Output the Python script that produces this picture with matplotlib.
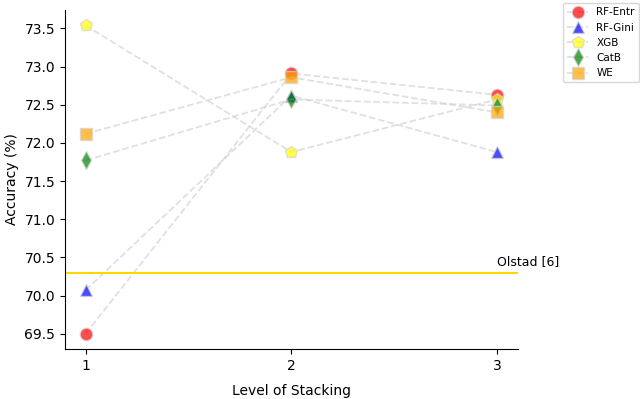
import matplotlib
matplotlib.use("Agg")
import matplotlib.pyplot as plt

# Accuracy per level of stacking
levels = [1, 2, 3]
rf_entr = [69.50, 72.91, 72.63]
rf_gini = [70.07, 72.62, 71.88]
xgb = [73.54, 71.88, 72.57]
catb = [71.77, 72.57, 72.49]
we = [72.12, 72.86, 72.40]
olstad = 70.30

series = [
    ("RF-Entr", rf_entr, "o", "red"),
    ("RF-Gini", rf_gini, "^", "blue"),
    ("XGB", xgb, "p", "yellow"),
    ("CatB", catb, "d", "green"),
    ("WE", we, "s", "orange"),
]

fig = plt.figure(figsize=(6.4, 3.99), dpi=100)
ax = fig.add_axes([0.1016, 0.125, 0.707, 0.85])

for label, vals, mk, col in series:
    ax.plot(levels, vals, linestyle="--", color="lightgrey", linewidth=1.3,
            marker=mk, markersize=9, markerfacecolor=col,
            markeredgecolor="lightgrey", alpha=0.7, label=label)

ax.axhline(olstad, color="gold", linewidth=1.5)
ax.text(3.0, olstad + 0.1, "Olstad [6]", fontsize=9)

ax.set_xticks(levels)
ax.set_xlim(0.9, 3.1)
ax.set_xlabel("Level of Stacking", labelpad=8)
ax.set_ylabel("Accuracy (%)")
ax.spines["top"].set_visible(False)
ax.spines["right"].set_visible(False)

ax.legend(loc="upper right", bbox_to_anchor=(1.28, 1.035), fontsize=7.5)

fig.savefig("out.png", dpi=100)
